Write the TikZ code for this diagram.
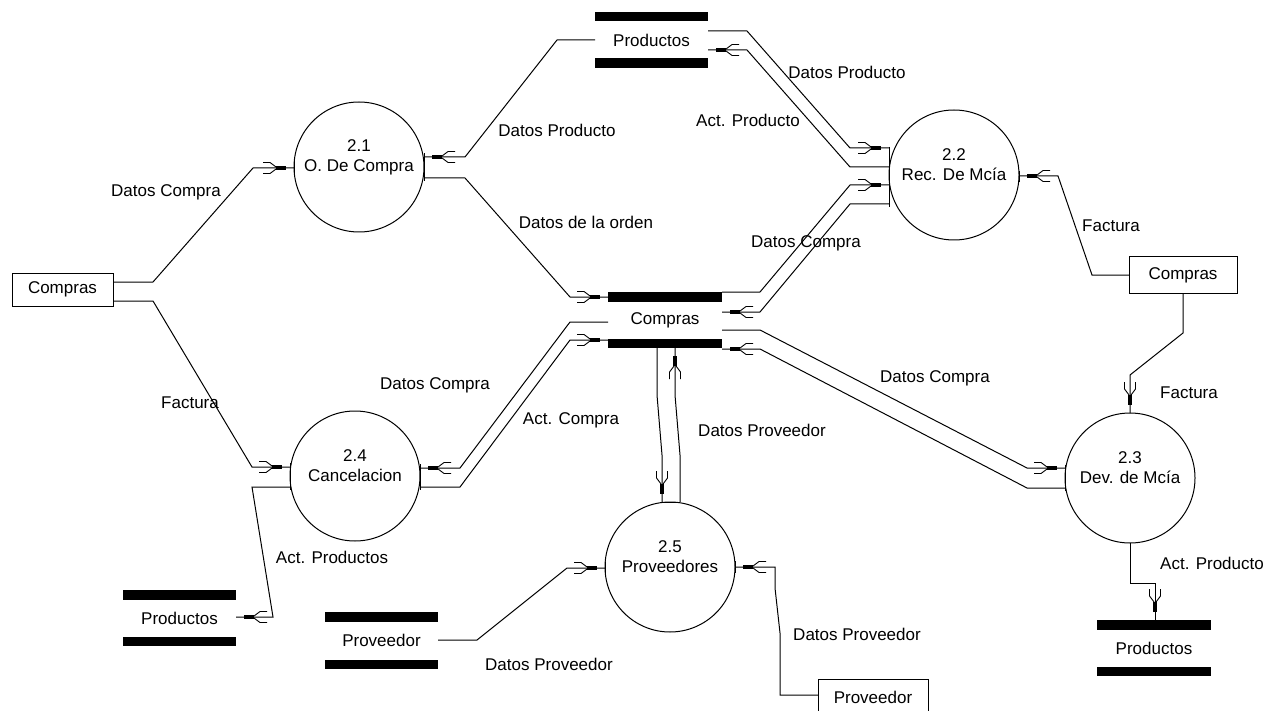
\documentclass[tikz,border=0pt]{standalone}
\usepackage{fontspec}
\setmainfont{Liberation Sans}
\usetikzlibrary{calc}

% Data-flow tip: thin stem, black block, and a feathered fork behind it
\pgfdeclarearrow{
  name = dfd,
  setup code = {
    \pgfarrowssettipend{0pt}
    \pgfarrowssetlineend{0pt}
    \pgfarrowssetbackend{-31pt}
    \pgfarrowshullpoint{0pt}{2pt}
    \pgfarrowsupperhullpoint{-31pt}{6pt}
  },
  drawing code = {
    \pgfpathrectangle{\pgfpoint{-18pt}{-2pt}}{\pgfpoint{10pt}{4pt}}
    \pgfusepathqfill
    \pgfsetlinewidth{0.9pt}
    \pgfpathmoveto{\pgfpoint{-18pt}{1pt}}
    \pgfpathlineto{\pgfpoint{-24pt}{5.5pt}}
    \pgfpathlineto{\pgfpoint{-31pt}{5.5pt}}
    \pgfpathmoveto{\pgfpoint{-18pt}{-1pt}}
    \pgfpathlineto{\pgfpoint{-24pt}{-5.5pt}}
    \pgfpathlineto{\pgfpoint{-31pt}{-5.5pt}}
    \pgfusepathqstroke
  }
}

\newcommand\storebars[1]{%
  \fill (#1.north west) rectangle ([yshift=-9.5pt]#1.north east);
  \fill (#1.south west) rectangle ([yshift=9.5pt]#1.south east);}

\tikzset{
  every node/.style={font=\fontsize{17}{20}\selectfont, inner sep=0pt, outer sep=0pt},
  proc/.style={circle, draw, line width=1pt, minimum size=130pt},
  ptext/.style={align=center},
  ext/.style={rectangle, draw, line width=1pt},
  store/.style={rectangle, minimum width=113pt, minimum height=56pt},
  flow/.style={line width=1pt, -dfd},
  line/.style={line width=1pt},
  lbl/.style={}
}

\begin{document}
\begin{tikzpicture}[x=1pt,y=-1pt]
\useasboundingbox (0,0) rectangle (1276,711);
\clip (0,0) rectangle (1276,711);
\fill[white] (0,0) rectangle (1276,711);

% external entities
\node[ext, minimum width=101pt, minimum height=33pt] (cL) at (62.5,289.5) {Compras};
\node[ext, minimum width=108pt, minimum height=36pt] (cR) at (1183,275) {Compras};
\node[ext, minimum width=110pt, minimum height=36pt] (pvE) at (873,697) {Proveedor};

% data stores
\node[store] (sP1) at (651.5,40) {Productos};
\node[store, minimum width=114pt] (sC) at (665,320) {Compras};
\node[store] (sP2) at (179.5,618) {Productos};
\node[store, minimum height=57pt] (sPv) at (381.5,640.5) {Proveedor};
\node[store, minimum width=114pt] (sP3) at (1154,648) {Productos};
\storebars{sP1}
\storebars{sC}
\storebars{sP2}
\storebars{sPv}
\storebars{sP3}

% processes
\node[proc] (p21) at (359,167) {};
\node[proc] (p22) at (954,175) {};
\node[proc] (p23) at (1130,478) {};
\node[proc] (p24) at (355,476) {};
\node[proc] (p25) at (670,567) {};
\node[ptext] (t21) at ([yshift=10pt]p21.center) {2.1\\O. De Compra};
\node[ptext] (t22) at ([yshift=10pt]p22.center) {2.2\\Rec. De Mcía};
\node[ptext] (t23) at ([yshift=10pt]p23.center) {2.3\\Dev. de Mcía};
\node[ptext] (t24) at ([yshift=10pt]p24.center) {2.4\\Cancelacion};
\node[ptext] (t25) at ([yshift=10pt]p25.center) {2.5\\Proveedores};

% attachment bars on the process borders
\draw[line] (p22.west |- 0,147) -- (p22.west |- 0,207);
\draw[line] (p21.west |- 0,161) -- (p21.west |- 0,175);
\draw[line] (p21.east |- 0,153) -- (p21.east |- 0,181);
\draw[line] (p22.east |- 0,171) -- (p22.east |- 0,182);
\draw[line] (p23.west |- 0,465) -- (p23.west |- 0,491);
\draw[line] (p24.west |- 0,463) -- (p24.west |- 0,490);
\draw[line] (p24.east |- 0,464) -- (p24.east |- 0,490);
\draw[line] (p25.west |- 0,562) -- (p25.west |- 0,574);
\draw[line] (p25.east |- 0,561) -- (p25.east |- 0,573);
\draw[line] (p25.north -| 662,0) -- (p25.north -| 680,0);

% flows
\draw[flow] (cL.east |- 0,282) -- (153,282) -- (253,168) -- (p21.west |- 0,168);
\draw[flow] (cL.east |- 0,301) -- (153,301) -- (252,467) -- (p24.west |- 0,467);
\draw[flow] (sP1.west) -- (557,40) -- (465,157) -- (p21.east |- 0,157);
\draw[flow] (p21.east |- 0,178) -- (465,178) -- (570,297) -- (sC.west |- 0,297);
\draw[flow] (sP1.east |- 0,31) -- (747,31) -- (850,148) -- (p22.west |- 0,148);
\draw[flow] (p22.west |- 0,167) -- (850,167) -- (747,50) -- (sP1.east |- 0,50);
\draw[flow] (sC.east |- 0,292) -- (760,292) -- (850,185) -- (p22.west |- 0,185);
\draw[flow] (p22.west |- 0,204) -- (850,204) -- (760,312) -- (sC.east |- 0,312);
\draw[flow] (sC.east |- 0,330) -- (760,330) -- (1027,468) -- (p23.west |- 0,468);
\draw[flow] (p23.west |- 0,488) -- (1027,488) -- (760,349) -- (sC.east |- 0,349);
\draw[flow] (cR.west) -- (1092,275) -- (1058,176) -- (p22.east |- 0,176);
\draw[flow] (cR.south) -- (1183,333) -- (1130,375) -- (p23.north);
\draw[flow] (p23.south) -- (1130,583) -- (1155,583) -- (sP3.north -| 1155,0);
\draw[flow] (p24.west |- 0,487) -- (252,487) -- (273,617) -- (sP2.east |- 0,617);
\draw[flow] (sC.west |- 0,322) -- (570,322) -- (460,468) -- (p24.east |- 0,468);
\draw[flow] (p24.east |- 0,487) -- (460,487) -- (570,340) -- (sC.west |- 0,340);
\draw[flow] (sC.south -| 657,0) -- (657,395) -- (662,455) -- (p25.north -| 662,0);
\draw[flow] (p25.north -| 680,0) -- (680,455) -- (675,395) -- (sC.south -| 675,0);
\draw[flow] (sPv.east |- 0,640) -- (477,640) -- (567,568) -- (p25.west |- 0,568);
\draw[flow] (pvE.west |- 0,695) -- (780,695) -- (780,633) -- (775,588) -- (775,567) -- (p25.east |- 0,567);

% flow labels
\node[lbl] (l1) at (166,192) {Datos Compra};
\node[lbl] (l2) at (190,403) {Factura};
\node[lbl] (l3) at (557,130) {Datos Producto};
\node[lbl] (l4) at (586,222) {Datos de la orden};
\node[lbl] (l5) at (847,72) {Datos Producto};
\node[lbl] (l6) at (748,120) {Act. Producto};
\node[lbl] (l7) at (806,243) {Datos Compra};
\node[lbl] (l8) at (935,378) {Datos Compra};
\node[lbl] (l9) at (1111,226) {Factura};
\node[lbl] (l10) at (1189,393) {Factura};
\node[lbl] (l11) at (1212,563) {Act. Producto};
\node[lbl] (l12) at (332,557) {Act. Productos};
\node[lbl] (l13) at (435,385) {Datos Compra};
\node[lbl] (l14) at (571,420) {Act. Compra};
\node[lbl] (l15) at (762,430) {Datos Proveedor};
\node[lbl] (l16) at (549,664) {Datos Proveedor};
\node[lbl] (l17) at (857,634) {Datos Proveedor};
\end{tikzpicture}
\end{document}
